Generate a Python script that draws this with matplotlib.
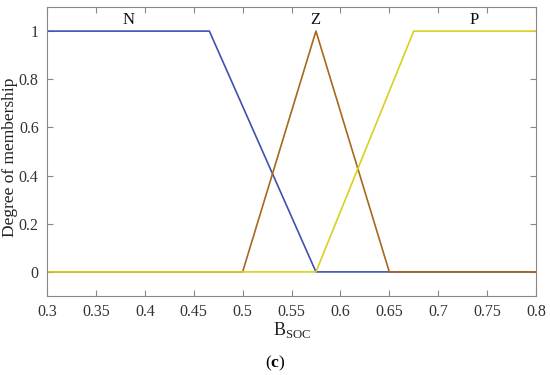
import matplotlib
matplotlib.use('Agg')
import matplotlib.pyplot as plt

# Membership function breakpoints (B_SOC) and memberships
n_x = [0.3, 0.466, 0.575, 0.8]
n_y = [1, 1, 0, 0]
z_x = [0.3, 0.5, 0.575, 0.65, 0.8]
z_y = [0, 0, 1, 0, 0]
p_x = [0.3, 0.575, 0.675, 0.8]
p_y = [0, 0, 1, 1]

labels = ['N', 'Z', 'P']
label_x = [0.383, 0.574, 0.737]

plt.rcParams['font.family'] = ['Liberation Serif', 'DejaVu Serif']
plt.rcParams['mathtext.fontset'] = 'custom'
plt.rcParams['mathtext.rm'] = 'Liberation Serif'
plt.rcParams['mathtext.bf'] = 'Liberation Serif:bold'

fig = plt.figure(figsize=(5.5, 3.75), dpi=100)
ax = fig.add_axes([0.0855, 0.2107, 0.889, 0.7706])

ax.plot(n_x, n_y, color='#4050B0', lw=1.2)
ax.plot(z_x, z_y, color='#A8681C', lw=1.2)
ax.plot(p_x, p_y, color='#D8D020', lw=1.2)

for lab, x in zip(labels, label_x):
    ax.text(x, 1.045, lab, ha='center', va='center', fontsize=12, color='#111111')

ax.set_xlim(0.3, 0.8)
ax.set_ylim(-0.1, 1.1)
ax.set_xticks([0.3, 0.35, 0.4, 0.45, 0.5, 0.55, 0.6, 0.65, 0.7, 0.75, 0.8])
ax.set_xticklabels(['0.3', '0.35', '0.4', '0.45', '0.5', '0.55', '0.6', '0.65', '0.7', '0.75', '0.8'])
ax.set_yticks([0, 0.2, 0.4, 0.6, 0.8, 1])
ax.set_yticklabels(['0', '0.2', '0.4', '0.6', '0.8', '1'])

for s in ax.spines.values():
    s.set_color('#888888')
    s.set_linewidth(0.8)
ax.tick_params(direction='in', top=True, right=True, length=4, width=0.8,
               color='#888888', labelsize=11.5, labelcolor='#333333', pad=6)

ax.set_xlabel(r'B$_{\rm SOC}$', fontsize=13, color='#222222', labelpad=0)
ax.set_ylabel('Degree of membership', fontsize=12.5, color='#222222')
ax.yaxis.set_label_coords(-0.059, 0.48)

fig.text(0.5, 0.032, r'($\mathbf{c}$)', ha='center', va='center', fontsize=12.5)

fig.savefig('out.png', dpi=100)
